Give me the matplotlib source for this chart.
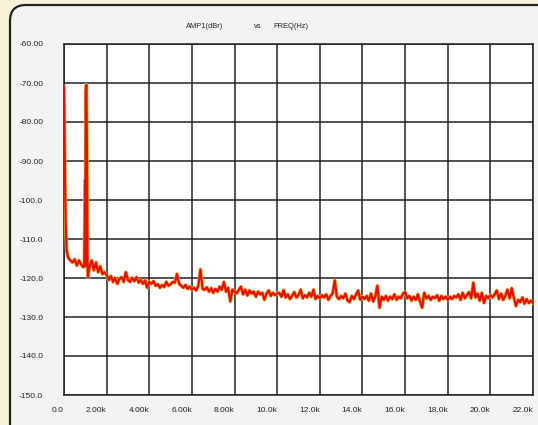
import numpy as np
import matplotlib
matplotlib.use('Agg')
import matplotlib.pyplot as plt
from matplotlib.patches import FancyBboxPatch
from matplotlib.transforms import IdentityTransform

plt.rcParams['font.family'] = ['Liberation Sans', 'DejaVu Sans']

# 低频起始段和 1k 附近的尖峰 (kHz, dBr)
start_f = [0.0, 0.02, 0.05, 0.08, 0.12, 0.16, 0.2]
start_db = [-71.0, -80.0, -96.0, -106.0, -112.5, -114.0, -114.8]

peak_f = [0.95, 0.99, 1.02, 1.05, 1.08, 1.12]
peak_db = [-116.8, -95.0, -72.0, -70.5, -90.0, -119.8]

# 底噪, 每 0.1k 一个点
floor_f = np.round(np.arange(0.3, 22.01, 0.1), 2)
floor_db = [
    -115.5, -116.0, -115.2, -116.8, -115.5, -116.5, -117.2,          # 0.3-0.9
    -117.0,                                                          # 1.0
    -114.0, -117.0, -115.5, -118.0, -116.0, -118.5, -117.0, -119.0, -118.5, -119.2,
    -120.5, -119.5, -121.0, -120.0, -121.5, -120.2, -119.8, -121.0, -118.5, -120.5,
    -121.0, -120.0, -120.8, -119.8, -121.2, -120.5, -121.5, -120.6, -122.5, -121.0,
    -121.5, -120.8, -122.0, -121.6, -122.5, -121.8, -122.3, -121.0, -122.0, -121.6,
    -121.0, -121.2, -119.0, -121.5, -122.0, -122.5, -121.8, -122.8, -122.2, -123.0,
    -122.5, -123.2, -122.0, -117.8, -122.8, -123.0, -122.4, -123.5, -122.6, -123.8,
    -122.8, -123.5, -122.2, -123.0, -121.0, -123.5, -122.5, -126.0, -123.0, -123.5,
    -124.0, -123.0, -122.2, -124.2, -123.0, -124.5, -123.2, -124.0, -123.5, -124.8,
    -123.5, -124.2, -123.8, -125.6, -124.0, -123.2, -124.6, -123.8, -124.4, -124.0,
    -123.8, -124.8, -123.1, -125.0, -124.2, -125.4, -124.6, -123.6, -125.0, -124.4,
    -123.0, -125.2, -124.4, -125.0, -123.8, -124.8, -123.0, -125.4, -124.6, -125.2,
    -124.4, -125.0, -124.2, -125.6, -124.6, -124.0, -120.6, -124.8, -125.4, -124.6,
    -125.2, -124.0, -125.8, -126.2, -124.6, -125.4, -124.2, -123.2, -125.6, -124.8,
    -125.4, -124.6, -125.8, -124.0, -126.0, -124.8, -122.0, -127.6, -124.8, -125.6,
    -124.6, -125.8, -124.8, -125.4, -124.2, -125.6, -124.8, -125.2, -124.0, -123.6,
    -125.2, -124.6, -125.8, -124.8, -125.6, -124.2, -126.0, -127.6, -123.8, -125.2,
    -124.6, -125.6, -124.8, -125.2, -124.4, -125.8, -124.6, -125.4, -124.8, -125.6,
    -124.8, -125.4, -124.6, -125.0, -124.2, -125.6, -123.8, -125.2, -124.4, -123.6,
    -125.2, -121.2, -125.0, -124.0, -125.8, -123.8, -126.4, -124.6, -125.2, -124.4,
    -125.0, -124.2, -123.2, -125.4, -124.0, -125.6, -124.6, -123.0, -125.2, -122.6,
    -125.0, -127.2, -125.6, -126.2, -125.0, -126.6, -125.4, -126.4, -125.8, -126.4,
]

x_ticks = [0, 2, 4, 6, 8, 10, 12, 14, 16, 18, 20, 22]
x_labels = ['0.0', '2.00k', '4.00k', '6.00k', '8.00k', '10.0k',
            '12.0k', '14.0k', '16.0k', '18.0k', '20.0k', '22.0k']
y_ticks = [-60, -70, -80, -90, -100, -110, -120, -130, -140, -150]
y_labels = ['-60.00', '-70.00', '-80.00', '-90.00', '-100.0',
            '-110.0', '-120.0', '-130.0', '-140.0', '-150.0']

# 合并三段数据
freq = np.concatenate([start_f, floor_f, peak_f])
amp = np.concatenate([start_db, floor_db, peak_db])
order = np.argsort(freq, kind='stable')
freq = freq[order]
amp = amp[order]

fig = plt.figure(figsize=(5.38, 4.25), dpi=100, facecolor='#f7f1d8')

# 圆角边框
frame = FancyBboxPatch((10, -20), 545, 440, boxstyle='round,pad=0,rounding_size=16',
                       transform=IdentityTransform(), facecolor='#f3f3f1',
                       edgecolor='#222222', linewidth=1.6, zorder=0)
fig.add_artist(frame)

ax = fig.add_axes([64 / 538, 1 - 395 / 425, 469 / 538, 351 / 425])
ax.set_facecolor('white')

ax.plot(freq, amp, color='#f7b030', linewidth=2.6, solid_joinstyle='round', zorder=3)
ax.plot(freq, amp, color='#e3100c', linewidth=1.6, solid_joinstyle='round', zorder=4)

ax.set_xlim(0, 22)
ax.set_ylim(-150, -60)
ax.set_xticks(x_ticks)
ax.set_xticklabels(x_labels, ha='right')
ax.set_yticks(y_ticks)
ax.set_yticklabels(y_labels)
ax.tick_params(length=0, labelsize=6.0, colors='#222222')
ax.tick_params(axis='y', pad=15)
ax.tick_params(axis='x', pad=9)
ax.grid(True, color='#222222', linewidth=1.1)
ax.set_axisbelow(True)
for s in ax.spines.values():
    s.set_color('#222222')
    s.set_linewidth(1.1)

fig.text(205 / 538, 1 - 26 / 425, 'AMP1(dBr)', fontsize=5.4, ha='center', va='center', color='#222222')
fig.text(258 / 538, 1 - 26 / 425, 'vs', fontsize=5.4, ha='center', va='center', color='#222222')
fig.text(291 / 538, 1 - 26 / 425, 'FREQ(Hz)', fontsize=5.4, ha='center', va='center', color='#222222')

fig.savefig('out.png', dpi=100, facecolor=fig.get_facecolor())
